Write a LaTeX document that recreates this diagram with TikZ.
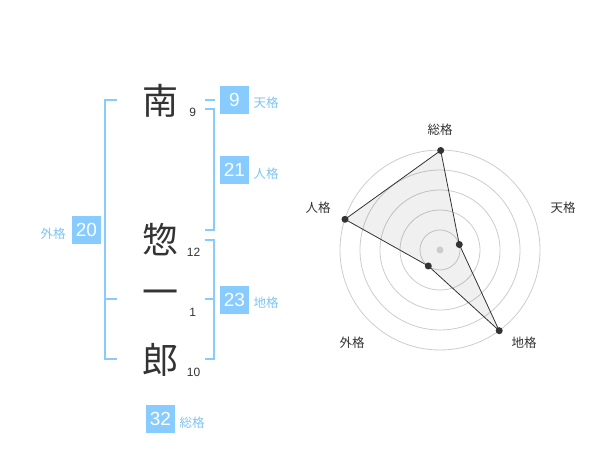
\documentclass[tikz,border=0pt]{standalone}
\usepackage{fontspec}
\setmainfont{Liberation Sans}
\newfontfamily\jp{Noto Sans CJK JP}
\definecolor{sky}{HTML}{88CCFF}
\definecolor{skytext}{HTML}{7EC4F2}
\definecolor{ink}{HTML}{333333}
\definecolor{ring}{HTML}{CCCCCC}
\tikzset{
  bigchar/.style={inner sep=0pt, text=ink, font=\jp\fontsize{36}{36}\selectfont},
  strokes/.style={inner sep=0pt, text=ink, font=\fontsize{12}{12}\selectfont},
  numbox/.style={fill=sky, text=white, minimum width=28.5pt, minimum height=28pt, inner sep=0pt, font=\fontsize{19}{19}\selectfont},
  kaku/.style={inner sep=0pt, text=skytext, font=\jp\fontsize{12.5}{12.5}\selectfont},
  bracket/.style={draw=sky, line width=2pt},
  axislabel/.style={inner sep=0pt, text=ink, font=\jp\fontsize{12.5}{12.5}\selectfont},
  ringline/.style={draw=ring, line width=0.8pt},
  dot/.style={circle, fill=ink, inner sep=0pt, minimum size=7pt},
}
\begin{document}
\begin{tikzpicture}[x=1pt,y=-1pt]
\useasboundingbox (0,0) rectangle (600,470);
% name characters
\node[bigchar] (c1) at (160,101) {南};
\node[bigchar] (c2) at (160,240) {惣};
\node[bigchar] (c3) at (160,298) {一};
\node[bigchar] (c4) at (160,360) {郎};
\node[strokes] (s1) at (192.7,112.7) {9};
\node[strokes] (s2) at (193.5,252.7) {12};
\node[strokes] (s3) at (192.7,312.7) {1};
\node[strokes] (s4) at (193.5,372.7) {10};
% brackets
\draw[bracket] (117,100) -- (105,100) -- (105,359) -- (117,359);
\draw[bracket] (105,299) -- (117,299);
\draw[bracket] (205,100) -- (215,100);
\draw[bracket] (205,109) -- (214,109) -- (214,230) -- (205,230);
\draw[bracket] (205,240) -- (214,240) -- (214,359) -- (205,359);
\draw[bracket] (205,299) -- (214,299);
% number boxes
\node[numbox] (ten) at (234.5,100) {9};
\node[numbox] (jin) at (234.5,170) {21};
\node[numbox] (chi) at (234.5,300) {23};
\node[numbox] (gai) at (86.5,230) {20};
\node[numbox] (sou) at (160.5,419) {32};
\node[kaku] (lten) at (266,102.5) {天格};
\node[kaku] (ljin) at (266,173.5) {人格};
\node[kaku] (lchi) at (266,303) {地格};
\node[kaku] (lgai) at (53,233.5) {外格};
\node[kaku] (lsou) at (192,423) {総格};
% radar chart
\coordinate (O) at (440,250);
\foreach \r in {20,40,60,80,100} \draw[ringline] (O) circle (\r);
\coordinate (pS) at (440.7,150.5);
\coordinate (pT) at (459.3,244.5);
\coordinate (pC) at (499.2,330.7);
\coordinate (pG) at (428.3,266.0);
\coordinate (pJ) at (345.0,219.3);
\filldraw[fill=black, fill opacity=0.06, draw=ink, line width=0.8pt] (pS) -- (pT) -- (pC) -- (pG) -- (pJ) -- cycle;
\node[circle, fill=ring, inner sep=0pt, minimum size=7pt] (ctr) at (O) {};
\foreach \p in {pS,pT,pC,pG,pJ} \node[dot] (d\p) at (\p) {};
\node[axislabel] (asou) at (440,130) {総格};
\node[axislabel] (aten) at (563,208) {天格};
\node[axislabel] (ajin) at (318,208) {人格};
\node[axislabel] (agai) at (352,343) {外格};
\node[axislabel] (achi) at (524,343) {地格};
\end{tikzpicture}
\end{document}
